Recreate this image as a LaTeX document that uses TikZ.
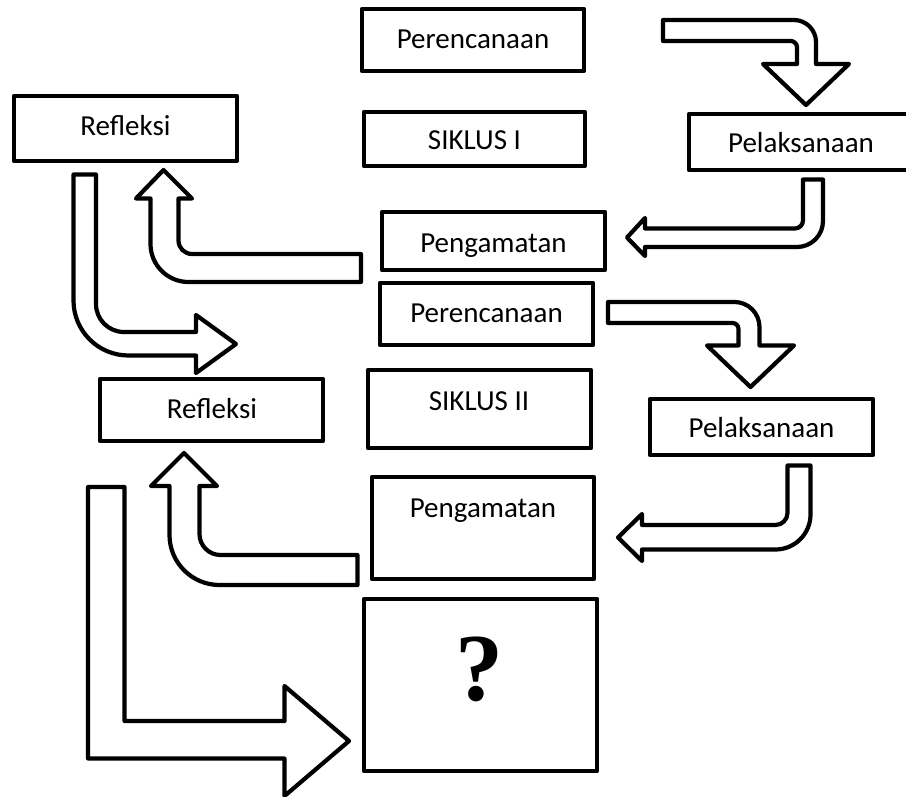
\documentclass[tikz,border=0pt]{standalone}
\usepackage{fontspec}
\setmainfont{Carlito}
\newfontfamily\qfont{Liberation Serif}
\begin{document}
\begin{tikzpicture}[x=1pt,y=-1pt, line width=4.2pt, line join=round,
  box/.style={draw, fill=white, rectangle, inner sep=0pt},
  lbl/.style={anchor=base, font=\fontsize{29}{30}\selectfont, inner sep=0pt},
  barrow/.style={draw, fill=white}]
\clip (0,0) rectangle (906,797);
\fill[white] (0,0) rectangle (906,797);

% boxes
\node[box, minimum width=222pt, minimum height=62pt] (pl1) at (473,40) {};
\node[lbl] (pl1t) at (473,49) {Perencanaan};
\node[box, minimum width=221pt, minimum height=54pt] (sk1) at (474.5,139) {};
\node[lbl] (sk1t) at (474.5,150) {SIKLUS I};
\node[box, minimum width=223pt, minimum height=65pt] (rf1) at (125.5,128.5) {};
\node[lbl] (rf1t) at (125.5,136) {Refleksi};
\node[box, minimum width=224pt, minimum height=56pt] (pk1) at (801,142) {};
\node[lbl] (pk1t) at (801,153) {Pelaksanaan};
\node[box, minimum width=223pt, minimum height=58pt] (pg1) at (493.5,241) {};
\node[lbl] (pg1t) at (493.5,252) {Pengamatan};
\node[box, minimum width=213pt, minimum height=62pt] (pl2) at (486.5,314) {};
\node[lbl] (pl2t) at (486.5,322) {Perencanaan};
\node[box, minimum width=223pt, minimum height=78pt] (sk2) at (479.5,409) {};
\node[lbl] (sk2t) at (479,410) {SIKLUS II};
\node[box, minimum width=223pt, minimum height=62pt] (rf2) at (211.5,410) {};
\node[lbl] (rf2t) at (212,418) {Refleksi};
\node[box, minimum width=223pt, minimum height=56pt] (pk2) at (761.5,427) {};
\node[lbl] (pk2t) at (761.5,437) {Pelaksanaan};
\node[box, minimum width=222pt, minimum height=102pt] (pg2) at (483,528) {};
\node[lbl] (pg2t) at (483,517) {Pengamatan};
\node[box, minimum width=233pt, minimum height=172pt] (q) at (480.5,685) {};
\node[anchor=base, inner sep=0pt, font=\qfont\bfseries\fontsize{96}{96}\selectfont] (qt) at (479,700) {?};

% arrow A: Perencanaan I -> Pelaksanaan I
\draw[barrow] (663,20) -- (794,20) .. controls (806.1,20) and (816,29.9) .. (816,42)
  -- (816,64) -- (849,64) -- (806,105) -- (763,64) -- (797,64) -- (797,47)
  .. controls (797,43.7) and (793.7,41) .. (791,41) -- (663,41) -- cycle;

% arrow B: Pelaksanaan I -> Pengamatan I
\draw[barrow] (803,179.5) -- (823,179.5) -- (823,221)
  .. controls (823,235.4) and (811.4,247) .. (797,247)
  -- (645,247) -- (645,256) -- (627,237.5) -- (645,218) -- (645,228.5) -- (795,228.5)
  .. controls (799.4,228.5) and (803,224.9) .. (803,220.5) -- cycle;

% arrow C: Pengamatan I -> Refleksi I
\draw[barrow] (361,254) -- (192,254)
  .. controls (184.5,254) and (178.5,248) .. (178.5,240.5)
  -- (178.5,198.5) -- (192,198.5) -- (163.5,170) -- (136,198.5) -- (150.5,198.5) -- (150.5,244)
  .. controls (150.5,265) and (167.5,282) .. (188.5,282) -- (361,282) -- cycle;

% arrow D: Refleksi I -> Perencanaan II
\draw[barrow] (73.5,174.5) -- (96,174.5) -- (96,304)
  .. controls (96,319.5) and (108.5,332) .. (124,332)
  -- (196,332) -- (196,315) -- (236,344) -- (196,373) -- (196,355.5) -- (128.5,355.5)
  .. controls (98.1,355.5) and (73.5,330.9) .. (73.5,300.5) -- cycle;

% arrow E: Perencanaan II -> Pelaksanaan II
\draw[barrow] (608,302) -- (734.5,302)
  .. controls (748.3,302) and (759.5,313.2) .. (759.5,327)
  -- (759.5,345.5) -- (794,345.5) -- (750.5,387) -- (707,345.5) -- (738.5,345.5) -- (738.5,329)
  .. controls (738.5,325.7) and (735.8,323) .. (732.5,323) -- (608,323) -- cycle;

% arrow F: Pelaksanaan II -> Pengamatan II
\draw[barrow] (787.5,465.5) -- (810.5,465.5) -- (810.5,514.5)
  .. controls (810.5,533.8) and (794.8,549.5) .. (775.5,549.5)
  -- (642,549.5) -- (642,561) -- (618,537.5) -- (642,514) -- (642,525) -- (775.5,525)
  .. controls (782.1,525) and (787.5,519.6) .. (787.5,513) -- cycle;

% arrow G: Pengamatan II -> Refleksi II
\draw[barrow] (357.5,555) -- (220.5,555)
  .. controls (208.9,555) and (199.5,545.6) .. (199.5,534)
  -- (199.5,486) -- (217,486) -- (184,453) -- (151,486) -- (169.5,486) -- (169.5,535)
  .. controls (169.5,562.6) and (191.9,585) .. (219.5,585) -- (357.5,585) -- cycle;

% arrow H: Refleksi II -> ?
\draw[barrow] (88,487) -- (124.5,487) -- (124.5,721) -- (284.5,721) -- (284.5,686)
  -- (349,741) -- (284.5,796) -- (284.5,758.5) -- (88,758.5) -- cycle;
\end{tikzpicture}
\end{document}
